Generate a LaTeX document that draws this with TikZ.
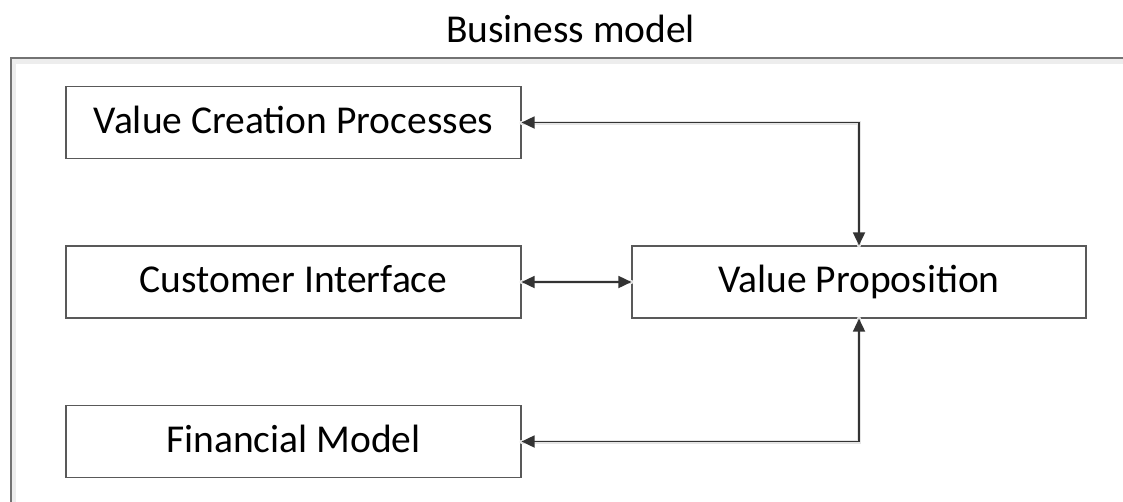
\documentclass[tikz,border=0pt]{standalone}
\usepackage{fontspec}
\setmainfont{Carlito}
\usetikzlibrary{arrows.meta}
\begin{document}
\begin{tikzpicture}[x=1pt,y=-1pt,
  block/.style={draw=black!65, line width=1.2pt, fill=white, minimum height=72pt,
    inner sep=0pt, text height=29pt, text depth=8pt,
    font=\fontsize{39.5}{42}\selectfont, text=black},
  link/.style={draw=black!80, line width=1.8pt,
    >={Triangle[length=13pt,width=12pt]}, <->},
  soft/.style={draw=black!10, line width=4pt, line cap=round},
  frame/.style={draw=black!55, line width=2.2pt}]
  \useasboundingbox (0,0) rectangle (1123,501);
  % outer frame: only its top and left sides fall inside the page
  \coordinate (ftr) at (1130,58);
  \coordinate (ftl) at (11,58);
  \coordinate (fbl) at (11,510);
  \draw[soft, draw=black!7, line width=5pt] ([shift={(2,3)}]ftr) -- ([shift={(2,3)}]ftl) -- ([shift={(2,3)}]fbl);
  \draw[frame] (ftr) -- (ftl) -- (fbl);
  \node[font=\fontsize{39.5}{42}\selectfont, anchor=base] (title) at (570.5,42) {Business model};
  % blocks
  \node[block, minimum width=455pt] (vcp) at (293.5,122.5) {Value Creation Processes};
  \node[block, minimum width=455pt] (ci)  at (293.5,282) {Customer Interface};
  \node[block, minimum width=455pt] (fm)  at (293.5,441.5) {Financial Model};
  \node[block, minimum width=454pt] (vp)  at (859,282) {Value Proposition};
  % soft shading under the connectors
  \begin{scope}[shift={(1.5,2.5)}]
    \draw[soft] (vcp.east) -| (vp.north);
    \draw[soft] (ci.east) -- (vp.west);
    \draw[soft] (fm.east) -| (vp.south);
  \end{scope}
  % connectors
  \draw[link] (vcp.east) -| (vp.north);
  \draw[link] (ci.east) -- (vp.west);
  \draw[link] (fm.east) -| (vp.south);
\end{tikzpicture}
\end{document}
